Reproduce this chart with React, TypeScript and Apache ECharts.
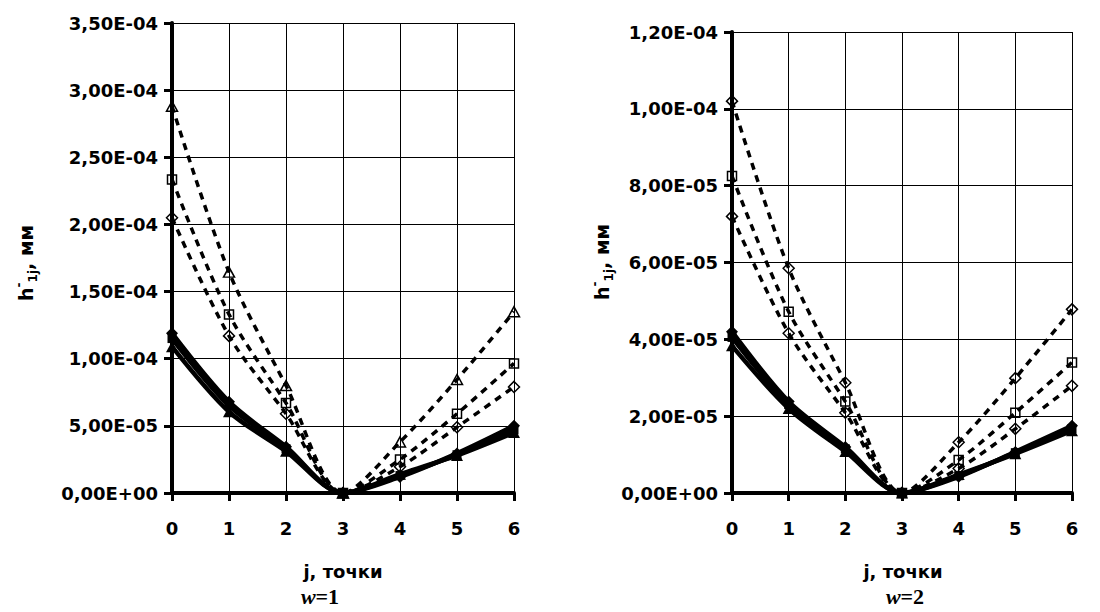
import React, { useEffect, useRef } from "react";
import * as echarts from "echarts";

// j, points along the profile
const points = ["0", "1", "2", "3", "4", "5", "6"];

// w = 1 : dashed series (hollow markers)
const w1DashTriangle = [2.88e-4, 1.645e-4, 0.8e-4, 0, 0.38e-4, 0.845e-4, 1.35e-4];
const w1DashSquare = [2.335e-4, 1.33e-4, 0.67e-4, 0, 0.25e-4, 0.59e-4, 0.965e-4];
const w1DashDiamond = [2.05e-4, 1.17e-4, 0.59e-4, 0, 0.195e-4, 0.49e-4, 0.79e-4];
// w = 1 : solid series (filled markers)
const w1SolidDiamond = [1.19e-4, 0.68e-4, 0.345e-4, 0, 0.12e-4, 0.295e-4, 0.5e-4];
const w1SolidSquare = [1.15e-4, 0.65e-4, 0.33e-4, 0, 0.13e-4, 0.285e-4, 0.47e-4];
const w1SolidTriangle = [1.09e-4, 0.605e-4, 0.31e-4, 0, 0.14e-4, 0.28e-4, 0.45e-4];

// w = 2 : dashed series (hollow markers)
const w2DashDiamondTop = [1.02e-4, 5.85e-5, 2.87e-5, 0, 1.32e-5, 2.99e-5, 4.78e-5];
const w2DashSquare = [8.25e-5, 4.72e-5, 2.38e-5, 0, 0.86e-5, 2.09e-5, 3.4e-5];
const w2DashDiamond = [7.2e-5, 4.16e-5, 2.09e-5, 0, 0.64e-5, 1.67e-5, 2.79e-5];
// w = 2 : solid series (filled markers)
const w2SolidDiamond = [4.2e-5, 2.38e-5, 1.2e-5, 0, 0.42e-5, 1.07e-5, 1.75e-5];
const w2SolidSquare = [4.05e-5, 2.3e-5, 1.15e-5, 0, 0.45e-5, 1.05e-5, 1.68e-5];
const w2SolidTriangle = [3.83e-5, 2.2e-5, 1.08e-5, 0, 0.48e-5, 1.02e-5, 1.62e-5];

// y-axis ranges
const w1Max = 3.5e-4;
const w1Step = 0.5e-4;
const w2Max = 1.2e-4;
const w2Step = 2e-5;

const xName = "j, точки";
const panelLabels = ["1", "2"];

const FONT = "'DejaVu Sans', 'Liberation Sans', Arial, sans-serif";
const SERIF = "'Liberation Serif', 'Times New Roman', serif";

// 3,50E-04 style labels
function sci(v: number): string {
  const s = v.toExponential(2);
  const [m, e] = s.split("e");
  const n = parseInt(e, 10);
  const sign = n < 0 ? "-" : "+";
  return m.replace(".", ",") + "E" + sign + String(Math.abs(n)).padStart(2, "0");
}

function dashed(name: string, data: number[], symbol: string, idx: number) {
  const size = symbol === "diamond" ? [11, 11] : symbol === "triangle" ? [11, 10] : [9, 9];
  return {
    name,
    type: "line",
    xAxisIndex: idx,
    yAxisIndex: idx,
    data,
    smooth: 0.3,
    symbol,
    symbolSize: size,
    showSymbol: true,
    lineStyle: { color: "#000", width: 3.5, type: [7, 6] },
    itemStyle: { color: "rgba(0,0,0,0)", borderColor: "#000", borderWidth: 1.5 },
    z: 2,
  };
}

function solid(name: string, data: number[], symbol: string, idx: number) {
  const size = symbol === "diamond" ? [12, 12] : symbol === "triangle" ? [12, 11] : [9, 9];
  return {
    name,
    type: "line",
    xAxisIndex: idx,
    yAxisIndex: idx,
    data,
    smooth: 0.3,
    symbol,
    symbolSize: size,
    showSymbol: true,
    lineStyle: { color: "#000", width: 4.5 },
    itemStyle: { color: "#000", borderColor: "#000", borderWidth: 0 },
    z: 3,
  };
}

function xAxis(idx: number) {
  return {
    type: "category",
    gridIndex: idx,
    data: points,
    boundaryGap: false,
    axisLine: { show: true, lineStyle: { color: "#000", width: 4 } },
    axisTick: { show: true, length: 8, lineStyle: { color: "#000", width: 3 }, interval: 0 },
    axisLabel: { color: "#000", fontFamily: FONT, fontWeight: "bold", fontSize: 18, margin: 26, interval: 0 },
    splitLine: { show: true, interval: 0, lineStyle: { color: "#000", width: 1 } },
  };
}

function yAxis(idx: number, max: number, step: number) {
  return {
    type: "value",
    gridIndex: idx,
    min: 0,
    max,
    interval: step,
    axisLine: { show: true, lineStyle: { color: "#000", width: 4 } },
    axisTick: { show: true, length: 8, lineStyle: { color: "#000", width: 3 } },
    axisLabel: {
      color: "#000",
      fontFamily: FONT,
      fontWeight: "bold",
      fontSize: 18,
      margin: 14,
      formatter: (v: number) => sci(v),
    },
    splitLine: { show: true, lineStyle: { color: "#000", width: 1 } },
  };
}

function yTitle(x: number, y: number) {
  return {
    type: "text",
    x,
    y,
    rotation: Math.PI / 2,
    style: {
      text: "{h|h}{sup|-}{sub|1j}{h|, мм}",
      align: "center",
      verticalAlign: "middle",
      fill: "#000",
      rich: {
        h: { fontFamily: FONT, fontWeight: "bold", fontSize: 19, lineHeight: 26, verticalAlign: "middle", fill: "#000" },
        sup: { fontFamily: FONT, fontWeight: "bold", fontSize: 12, lineHeight: 26, verticalAlign: "top", fill: "#000" },
        sub: { fontFamily: FONT, fontWeight: "bold", fontSize: 12, lineHeight: 26, verticalAlign: "bottom", fill: "#000" },
      },
    },
  };
}

function xTitle(x: number, y: number) {
  return {
    type: "text",
    x,
    y,
    style: {
      text: xName,
      align: "center",
      verticalAlign: "middle",
      fill: "#000",
      fontFamily: FONT,
      fontWeight: "bold",
      fontSize: 18,
    },
  };
}

function wTitle(x: number, y: number, n: string) {
  return {
    type: "text",
    x,
    y,
    style: {
      text: "{w|w}{n|=" + n + "}",
      align: "center",
      verticalAlign: "middle",
      fill: "#000",
      rich: {
        w: { fontFamily: SERIF, fontStyle: "italic", fontWeight: "bold", fontSize: 22, lineHeight: 24, fill: "#000" },
        n: { fontFamily: SERIF, fontWeight: "bold", fontSize: 22, lineHeight: 24, fill: "#000" },
      },
    },
  };
}

export default function App() {
  const ref = useRef<HTMLDivElement>(null);

  useEffect(() => {
    if (!ref.current) return;
    const chart = echarts.init(ref.current, null, { renderer: "svg" });
    chart.setOption({
      animation: false,
      backgroundColor: "#fff",
      grid: [
        { left: 172, top: 23, width: 342, height: 470, containLabel: false },
        { left: 732, top: 32, width: 340, height: 461, containLabel: false },
      ],
      xAxis: [xAxis(0), xAxis(1)],
      yAxis: [yAxis(0, w1Max, w1Step), yAxis(1, w2Max, w2Step)],
      series: [
        dashed("w1-dash-triangle", w1DashTriangle, "triangle", 0),
        dashed("w1-dash-square", w1DashSquare, "rect", 0),
        dashed("w1-dash-diamond", w1DashDiamond, "diamond", 0),
        solid("w1-solid-diamond", w1SolidDiamond, "diamond", 0),
        solid("w1-solid-square", w1SolidSquare, "rect", 0),
        solid("w1-solid-triangle", w1SolidTriangle, "triangle", 0),
        dashed("w2-dash-diamond-top", w2DashDiamondTop, "diamond", 1),
        dashed("w2-dash-square", w2DashSquare, "rect", 1),
        dashed("w2-dash-diamond", w2DashDiamond, "diamond", 1),
        solid("w2-solid-diamond", w2SolidDiamond, "diamond", 1),
        solid("w2-solid-square", w2SolidSquare, "rect", 1),
        solid("w2-solid-triangle", w2SolidTriangle, "triangle", 1),
      ],
      graphic: [
        yTitle(26, 263),
        yTitle(602, 262),
        xTitle(343, 571),
        xTitle(903, 571),
        wTitle(320, 596, panelLabels[0]),
        wTitle(905, 596, panelLabels[1]),
      ],
    });
    return () => chart.dispose();
  }, []);

  return (
    <div
      ref={ref}
      style={{ position: "absolute", left: 0, top: 0, width: 1100, height: 612, background: "#fff" }}
    />
  );
}
